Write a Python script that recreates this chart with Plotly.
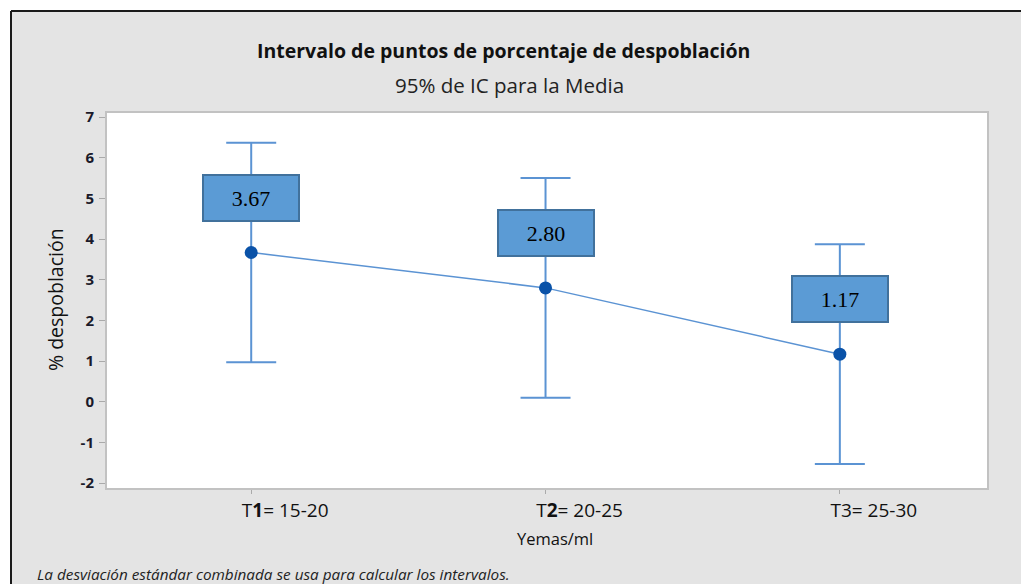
import plotly.graph_objects as go

categories = ["T1= 15-20", "T2= 20-25", "T3= 25-30"]
category_labels = ["T<b>1</b>= 15-20", "T<b>2</b>= 20-25", "T3= 25-30"]
means = [3.67, 2.80, 1.17]
ci_half = [2.70, 2.70, 2.70]
y_ticks = [-2, -1, 0, 1, 2, 3, 4, 5, 6, 7]
y_tick_text = ["-2", "-1", "0", "1", "2", "3", "4", "5", "6", "7"]

W, H = 1021, 584
ML, MR, MT, MB = 107, 34, 113, 96
PW, PH = W - ML - MR, H - MT - MB


def px(x):
    return (x - ML) / PW


def py(y):
    return (H - MB - y) / PH


LINE_C = "#5b93d3"
xs = list(range(len(categories)))

fig = go.Figure()
fig.add_trace(go.Scatter(
    x=xs, y=means, mode="lines+markers",
    line=dict(color=LINE_C, width=1.5),
    marker=dict(color="#0a52a8", size=13),
    error_y=dict(type="data", array=ci_half, symmetric=True,
                 color=LINE_C, thickness=2, width=25),
    hoverinfo="skip", showlegend=False,
))

base = "Open Sans"
ann = []
for x, m in zip(xs, means):
    ann.append(dict(x=x, y=m, xref="x", yref="y", text=f"{m:.2f}",
                    showarrow=False, yshift=55,
                    font=dict(family="Liberation Serif", size=22, color="#000"),
                    bgcolor="#5b9bd5", bordercolor="#41719c", borderwidth=2,
                    borderpad=1, width=92, height=42))


def txt(x, y, text, size, color="#111", **kw):
    d = dict(x=px(x), y=py(y), xref="paper", yref="paper", showarrow=False,
             xanchor="center", yanchor="middle", text=text,
             font=dict(family=base, size=size, color=color))
    d.update(kw)
    return d


ann += [
    txt(503, 50, "<b>Intervalo de puntos de porcentaje de despoblación</b>", 19.5),
    txt(509, 85, "95% de IC para la Media", 20.5, "#222"),
    txt(555, 538, "Yemas/ml", 16.5),
    txt(55, 300, "% despoblación", 19.5, textangle=-90),
    txt(35, 574, "<i>La desviación estándar combinada se usa para calcular los intervalos.</i>",
        15.3, "#222", xanchor="left"),
]

shapes = [
    dict(type="rect", xref="paper", yref="paper", layer="below",
         x0=px(-5), x1=px(W + 5), y0=py(11), y1=py(-5),
         fillcolor="white", line=dict(width=0)),
    dict(type="rect", xref="paper", yref="paper", layer="below",
         x0=px(-5), x1=px(11), y0=py(H + 5), y1=py(-5),
         fillcolor="white", line=dict(width=0)),
    dict(type="line", xref="paper", yref="paper",
         x0=px(11), x1=px(W + 5), y0=py(11), y1=py(11),
         line=dict(color="#1a1a1a", width=2)),
    dict(type="line", xref="paper", yref="paper",
         x0=px(11), x1=px(11), y0=py(11), y1=py(H + 5),
         line=dict(color="#1a1a1a", width=2)),
]

fig.update_layout(
    width=W, height=H,
    margin=dict(l=ML, r=MR, t=MT, b=MB),
    paper_bgcolor="#e4e4e4", plot_bgcolor="white",
    annotations=ann, shapes=shapes,
    xaxis=dict(range=[-0.49, 2.5], tickvals=xs, ticktext=category_labels,
               showgrid=False, zeroline=False, showline=True, mirror=True,
               linecolor="#c2c2c2", linewidth=2, ticks="outside", ticklen=4,
               tickcolor="#aaa", ticklabelshift=34,
               tickfont=dict(family=base, size=19, color="#111")),
    yaxis=dict(range=[-2.12, 7.1], tickvals=y_ticks, ticktext=y_tick_text,
               showgrid=False, zeroline=False, showline=True, mirror=True,
               linecolor="#c2c2c2", linewidth=2, ticks="outside", ticklen=6,
               tickcolor="#aaa", ticklabelstandoff=2,
               tickfont=dict(family=base, size=15, color="#1a1a2a", weight="bold")),
)

fig.write_html("out.html", config={"displayModeBar": False},
               post_script="document.body.style.margin='0';")
